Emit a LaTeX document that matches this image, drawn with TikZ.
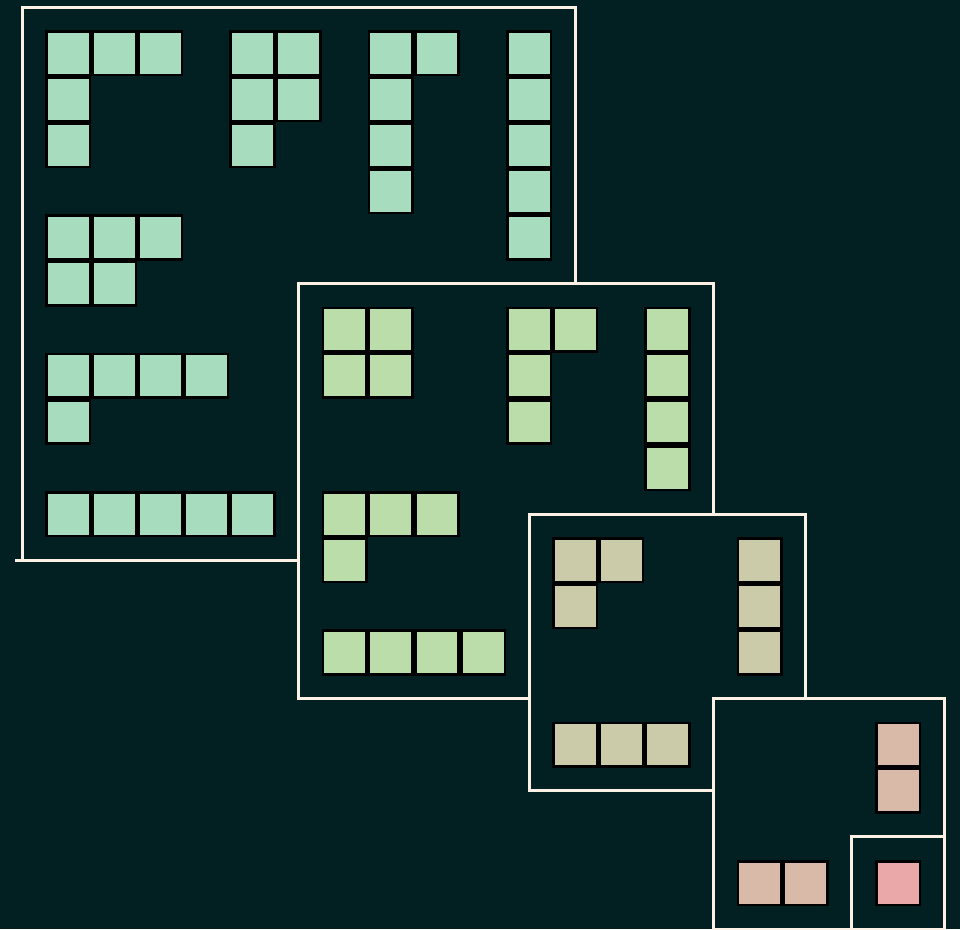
\documentclass[tikz,border=0pt]{standalone}
\definecolor{bg}{RGB}{2,31,34}
\definecolor{edge}{RGB}{253,240,228}
\definecolor{cA}{RGB}{168,220,190}
\definecolor{cB}{RGB}{187,221,170}
\definecolor{cC}{RGB}{203,203,169}
\definecolor{cD}{RGB}{217,186,168}
\definecolor{cE}{RGB}{235,168,168}
\tikzset{
  panelbox/.style={fill=bg, draw=edge, line width=3pt},
  cellbox/.style={draw=black, line width=2.6pt},
}
\newcommand\mypanel[4]{%
  \begin{scope}[shift={(22+#1*46.11, 7+#1*46.11)}]
    \draw[panelbox] (0,0) rectangle (#2*46.11, #2*46.11);
    \foreach \c/\r in {#4} {
      \draw[cellbox, fill=#3] (\c*46.11+24.35, \r*46.11+24.35) rectangle ++(43.5,43.5);
    }
  \end{scope}}
\begin{document}
\begin{tikzpicture}[x=1pt,y=-1pt]
\fill[bg] (0,0) rectangle (960,929);
\useasboundingbox (0,0) rectangle (960,929);
\mypanel{0}{12}{cA}{0/0,1/0,2/0,0/1,0/2, 4/0,5/0,4/1,5/1,4/2, 7/0,8/0,7/1,7/2,7/3, 10/0,10/1,10/2,10/3,10/4, 0/4,1/4,2/4,0/5,1/5, 0/7,1/7,2/7,3/7,0/8, 0/10,1/10,2/10,3/10,4/10}
\draw[edge, line width=3pt] (15,{7+12*46.11}) -- (22,{7+12*46.11});
\mypanel{6}{9}{cB}{0/0,1/0,0/1,1/1, 4/0,5/0,4/1,4/2, 7/0,7/1,7/2,7/3, 0/4,1/4,2/4,0/5, 0/7,1/7,2/7,3/7}
\mypanel{11}{6}{cC}{0/0,1/0,0/1, 4/0,4/1,4/2, 0/4,1/4,2/4}
\mypanel{15}{5}{cD}{3/0,3/1, 0/3,1/3}
\mypanel{18}{2}{cE}{0/0}
\end{tikzpicture}
\end{document}
